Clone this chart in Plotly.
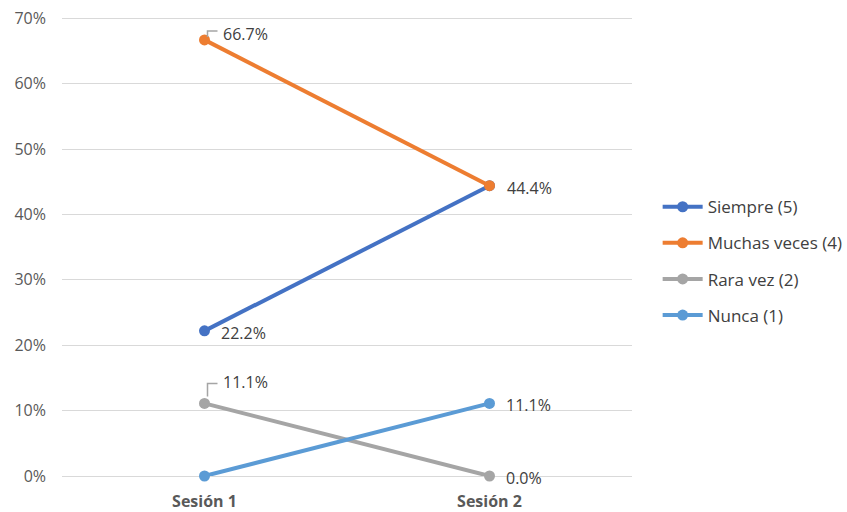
import plotly.graph_objects as go

categories = ["Sesión 1", "Sesión 2"]
series_names = ["Siempre (5)", "Muchas veces (4)", "Rara vez (2)", "Nunca (1)"]
siempre = [0.222, 0.444]
muchas = [0.667, 0.444]
rara = [0.111, 0.0]
nunca = [0.0, 0.111]
colors = ["#4472C4", "#ED7D31", "#A5A5A5", "#5B9BD5"]
y_ticks = [0, 0.1, 0.2, 0.3, 0.4, 0.5, 0.6, 0.7]

series = [siempre, muchas, rara, nunca]
FONT = "Open Sans, Noto Sans, sans-serif"

fig = go.Figure()
for i, (name, vals, col) in enumerate(zip(series_names, series, colors)):
    fig.add_trace(go.Scatter(
        x=categories, y=vals, name=name, mode="lines+markers",
        line=dict(color=col, width=4),
        marker=dict(color=col, size=11),
        legendgroup=f"g{i}",
        cliponaxis=False,
    ))

# data labels: (series index, point index, style, xshift)
labels = [
    (0, 0, "right", 14),
    (1, 0, "leader", 0),
    (1, 1, "right", 15),
    (2, 0, "leader", 0),
    (2, 1, "right", 14),
    (3, 1, "right", 14),
]
annotations = []
shapes = []
for si, pi, style, dx in labels:
    v = series[si][pi]
    txt = f"{v*100:.1f}%"
    if style == "right":
        annotations.append(dict(x=categories[pi], y=v, xref="x", yref="y", text=txt,
                                showarrow=False, xanchor="left", yanchor="middle",
                                xshift=dx, yshift=-2,
                                font=dict(family=FONT, size=16, color="#404040")))
    else:
        up = 5 if si == 1 else 20
        annotations.append(dict(x=categories[pi], y=v, xref="x", yref="y", text=txt,
                                showarrow=False, xanchor="left", yanchor="middle",
                                xshift=16, yshift=up + 1,
                                font=dict(family=FONT, size=16, color="#404040")))
        if si == 2:
            path = f"M 3 7 L 3 {up} L 13 {up}"
        else:
            path = f"M 3 3 L 3 {up + 4} L 13 {up + 4}"
        shapes.append(dict(type="path", xref="x", yref="y", xsizemode="pixel", ysizemode="pixel",
                           xanchor=categories[pi], yanchor=v, path=path,
                           line=dict(color="#A5A5A5", width=1.5)))

fig.update_layout(
    width=847, height=512,
    margin=dict(l=62, r=215, t=17, b=36, autoexpand=False),
    paper_bgcolor="white", plot_bgcolor="white",
    font=dict(family=FONT, color="#595959"),
    showlegend=True,
    legend=dict(x=1.045, xanchor="left", y=0.468, yanchor="middle",
                font=dict(family=FONT, size=17, color="#404040"),
                tracegroupgap=11, traceorder="grouped", itemwidth=40),
    annotations=annotations,
    shapes=shapes,
    xaxis=dict(type="category", range=[-0.5, 1.5], showgrid=False, showline=False,
               zeroline=False, ticks="", ticklabelstandoff=14, automargin=False,
               tickfont=dict(family=FONT, size=16, color="#595959", weight="bold")),
    yaxis=dict(range=[0, 0.702], tickvals=y_ticks, tickformat=".0%",
               showgrid=True, gridcolor="#D9D9D9", gridwidth=1, zeroline=True,
               zerolinecolor="#D9D9D9", zerolinewidth=1, showline=False, ticks="",
               ticklabelstandoff=15, automargin=False,
               tickfont=dict(family=FONT, size=16, color="#595959")),
)

fig.write_html("out.html")
